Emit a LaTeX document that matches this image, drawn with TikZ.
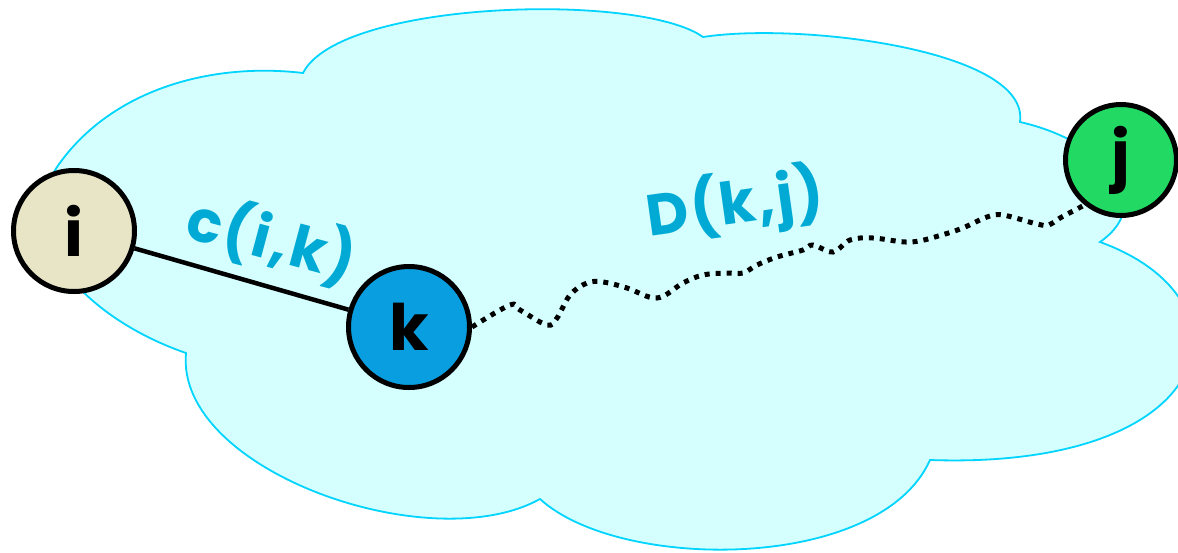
\documentclass[tikz,border=0pt]{standalone}
\usepackage{fontspec}
\setmainfont{Poppins}
\newfontfamily\labfont{Poppins}[LetterSpace=4]
\definecolor{cloudfill}{RGB}{213,255,255}
\definecolor{cloudline}{RGB}{0,212,255}
\definecolor{labcol}{RGB}{0,170,212}
\definecolor{ifill}{RGB}{232,229,198}
\definecolor{kfill}{RGB}{8,158,224}
\definecolor{jfill}{RGB}{34,217,100}
\begin{document}
\begin{tikzpicture}[x=1pt,y=-1pt,
  vertex/.style={circle, draw=black, line width=5pt, inner sep=0pt, minimum size=121pt,
    font=\fontsize{64}{64}\selectfont\bfseries},
  lab/.style={text=labcol, inner sep=0pt, font=\labfont\fontsize{58}{58}\selectfont\bfseries},
  cloudarea/.style={fill=cloudfill, draw=cloudline, line width=1.8pt},
  edgeline/.style={draw=black, line width=4.5pt},
  wavyline/.style={draw=black, line width=5pt, dash pattern=on 5pt off 6pt}]
\useasboundingbox (0,0) rectangle (1178,552);
% cloud
\path[cloudarea] (57,167)
  .. controls (110,90) and (210,62) .. (303,73)
  .. controls (340,0) and (640,-8) .. (703,37)
  .. controls (800,22) and (1030,50) .. (1020,122)
  .. controls (1100,140) and (1160,200) .. (1100,242)
  .. controls (1260,300) and (1220,470) .. (930,460)
  .. controls (880,572) and (620,572) .. (540,499)
  .. controls (430,560) and (175,470) .. (186,353)
  .. controls (90,320) and (10,240) .. (57,167) -- cycle;
% nodes
\node[vertex, fill=ifill] (i) at (74,231) {i};
\node[vertex, fill=kfill] (k) at (409,327) {k};
\node[vertex, fill=jfill, minimum size=111pt] (j) at (1121,160) {j};
% connectors
\draw[edgeline] (i) -- (k);
\draw[wavyline] plot[smooth, tension=0.6] coordinates {(k.east) (510,305) (520,310) (547,325)
  (557,318) (570,295) (587,283) (603,282) (627,288) (657,298) (683,283) (703,275)
  (727,273) (743,273) (757,265) (777,257) (803,250) (813,245) (833,252) (850,240)
  (873,238) (911,242) (945,234) (965,227) (987,217) (1003,215) (1037,224) (1049,225)
  (1060,218) (j.231)};
% labels
\node[lab, rotate=-15] (cik) at (272,240) {c(i,k)};
\node[lab, rotate=8] (dkj) at (735,205) {D(k,j)};
\end{tikzpicture}
\end{document}
